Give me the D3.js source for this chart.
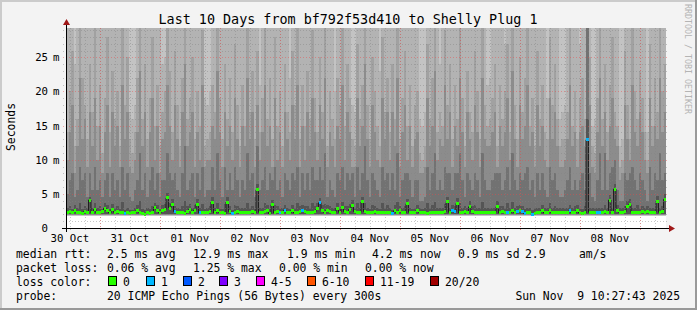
<!DOCTYPE html>
<html>
<head>
<meta charset="utf-8">
<script src="https://cdn.jsdelivr.net/npm/d3@7.9.0/dist/d3.min.js"></script>
<style>
  body { margin: 0; background: #f3f3f3; }
  svg { display: block; }
  text { font-family: "DejaVu Sans Mono", monospace; fill: #000; }
</style>
</head>
<body>
<svg id="chart" width="697" height="310"></svg>
<script>
// hourly medians (ms), one per hour, 30 Oct 10:27 -> 09 Nov 10:27
const medianRtt = [
  2.3,2.4,2.2,2.5,2.3,2.2,2.1,2.4,2.3,4.1, 2.2,2.7,2.2,2.3,2.4,2.9,2.5,2.2,2.7,2.3,
  2.4,2.2,2.2,2.1,2.2,2.1,2.2,2.3,2.6,2.3, 2.1,2.0,2.2,2.1,2.3,3.0,2.6,2.2,2.5,2.7,
  4.4,2.8,3.5,2.4,2.2,2.2,2.3,2.1,2.4,2.7, 2.3,2.6,3.5,2.2,2.3,2.2,2.2,2.4,3.8,2.2,
  2.6,2.3,2.2,2.1,3.8,2.4,2.1,2.3,2.4,2.2, 2.3,2.2,2.2,2.3,2.4,2.2,5.6,2.3,2.2,2.4,
  2.6,2.1,3.4,2.2,2.4,2.3,2.2,2.6,2.3,2.2, 2.6,2.2,2.3,2.4,2.5,2.4,2.2,2.3,2.2,2.4,
  2.9,3.7,2.6,2.3,2.6,2.4,2.2,2.3,2.9,2.3, 3.0,2.4,2.2,2.7,3.3,2.4,2.2,2.3,3.85,2.4,
  2.3,2.2,2.2,2.4,2.3,2.2,2.2,2.3,2.2,2.2, 2.1,2.5,2.2,2.5,2.3,2.2,3.55,2.3,2.2,2.3,
  2.6,2.3,2.2,2.2,2.1,2.2,2.2,2.2,2.3,2.2, 2.2,2.4,3.85,2.3,2.6,2.4,3.6,2.2,2.3,2.4,
  2.3,3.1,2.4,2.2,2.2,2.3,2.2,2.3,2.2,2.2, 2.2,2.3,3.1,2.2,2.4,2.3,2.3,2.2,2.5,2.3,
  2.4,2.5,2.4,2.1,2.2,2.2,2.0,2.1,2.2,2.3, 2.6,2.2,2.3,2.5,2.2,2.2,2.3,2.2,2.2,2.3,
  2.2,2.5,2.2,2.2,2.6,2.2,2.1,2.2,12.9,2.3, 2.2,2.3,2.3,2.2,2.2,2.4,2.3,4.1,2.3,5.7,
  2.6,2.3,2.2,2.4,3.2,3.4,2.3,2.2,2.3,2.3, 2.4,2.3,2.4,2.3,2.3,2.3,3.9,2.3,2.4,4.2
];

// hours with lost pings, and how many of the 20 were lost
const lossHours = [23,43,53,66,85,87,94,101,130,154,155,176,180,182,183,186,201,208,212,213];
const lossPings = [1,1,1,1,1,1,1,1,1,1,1,1,1,1,1,1,1,1,1,1];

// smoke band tops (ms), from the outer band inwards
const smokeE = [
  30,30,30,24,30,30,30,30,30,30, 30,30,30,30,30,30,30,30,30,30,
  30,30,30,30,30,17,16,18,30,30, 30,30,30,30,30,30,30,30,24,25,
  26,30,30,30,30,30,30,30,30,30, 30,30,30,30,30,19,18,20,30,30,
  30,30,30,30,30,30,30,30,30,30, 30,30,30,30,30,30,30,21,30,30,
  30,30,30,30,30,30,30,30,30,22, 30,30,30,30,30,30,30,30,30,30,
  30,30,30,30,30,30,30,20,30,30, 30,30,30,30,18,17,30,30,30,30,
  30,30,30,30,30,23,30,30,30,30, 30,30,30,30,30,30,30,30,30,30,
  30,16,15,17,30,30,30,30,30,24, 30,30,30,30,30,30,30,30,30,30,
  30,30,30,30,30,30,30,30,21,22, 30,30,30,30,30,27,30,30,30,30,
  30,30,30,30,30,30,30,30,30,30, 30,30,19,30,30,30,30,16,17,18,
  30,30,30,30,30,27,30,30,30,30, 15,16,30,30,30,30,30,30,30,30,
  30,12,13,30,30,30,30,30,30,30, 30,30,14,30,30,30,30,30,30,30
];
const smokeD = [
  14,20,26,12,16,30,22,18,13,24, 17,30,15,21,11,19,28,14,23,16,
  20,12,30,18,25,13,11,14,22,30, 16,24,13,19,28,15,21,12,17,20,
  30,23,14,26,18,12,22,30,16,19, 25,13,20,15,29,12,13,14,21,17,
  30,19,13,24,16,22,14,27,18,12, 21,15,30,17,23,13,26,14,19,30,
  16,22,13,28,15,20,12,24,17,14, 26,18,30,13,21,15,23,16,29,19,
  14,25,17,30,12,20,16,13,22,18, 30,15,24,19,13,12,27,16,21,30,
  18,13,25,20,15,12,28,17,22,14, 24,16,30,13,19,26,15,21,12,18,
  20,11,10,12,27,16,22,30,14,17, 15,29,18,24,13,21,16,30,19,12,
  23,17,14,26,20,13,30,18,15,16, 19,24,12,21,16,20,27,14,30,18,
  13,25,17,22,30,15,19,12,26,16, 21,14,13,28,18,24,16,12,13,13,
  17,30,15,20,13,19,22,16,30,25, 12,11,19,30,16,24,14,21,28,17,
  15,9,10,26,18,13,30,20,16,23, 19,14,10,27,15,22,17,30,20,24
];
const smokeC = [
  10,14,18,8,12,22,13,16,9,17, 12,19,10,15,8,14,18,9,17,12,
  15,9,21,13,17,9,8,10,14,23, 12,17,9,14,19,10,15,8,13,14,
  21,15,10,18,13,9,17,24,12,14, 17,9,14,10,21,9,10,10,15,13,
  23,14,9,17,12,15,10,19,13,9, 15,12,22,13,17,9,18,10,14,21,
  12,15,9,19,10,14,9,17,13,10, 18,13,21,9,15,10,17,12,19,14,
  10,18,13,22,9,14,12,9,15,13, 21,10,17,14,9,9,19,12,15,24,
  13,9,18,14,10,9,19,13,17,10, 17,12,22,9,14,18,10,15,9,13,
  14,8,8,9,19,12,15,23,10,13, 12,21,13,17,9,15,12,22,14,9,
  17,13,10,18,14,9,22,13,12,12, 14,17,9,15,12,14,19,10,23,13,
  9,18,13,15,21,12,14,9,18,12, 15,10,9,19,13,17,12,9,9,10,
  13,21,12,14,9,14,15,12,30,18, 9,8,14,22,12,17,10,15,19,13,
  12,7,8,18,13,10,21,14,12,17, 14,10,8,19,12,15,13,22,14,17
];
const smokeB = [
  5,7,8,4.5,5.5,9,7,8,4.5,8, 5.5,9,5.5,7,4.5,7,8,4.5,8,5.5,
  7,4.5,9,5.5,8,4.5,4,5.5,7,11, 5.5,8,4.5,7,9,5.5,8,4.5,7,7,
  11,8,7,8,5.5,4.5,8,12,5.5,7, 8,4.5,8,5.5,9,4.5,5.5,5.5,9,5.5,
  11,7,4.5,9,5.5,8,5.5,9,7,4.5, 7,5.5,11,7,8,4.5,12,5.5,7,9,
  5.5,8,7,9,5.5,7,4.5,8,7,5.5, 8,7,9,4.5,8,5.5,8,5.5,9,7,
  7,9,7,11,4.5,7,5.5,4.5,8,7, 9,5.5,8,7,8,4.5,9,5.5,8,12,
  7,4.5,8,7,5.5,4.5,9,7,8,5.5, 8,5.5,11,4.5,7,8,8,7,4.5,7,
  7,4,4,4.5,9,5.5,8,11,5.5,7, 5.5,9,8,8,5.5,8,8,11,7,4.5,
  8,7,5.5,8,7,4.5,11,7,5.5,5.5, 7,8,8,8,5.5,7,9,5.5,11,7,
  5.5,8,7,8,9,5.5,7,4.5,8,5.5, 8,5.5,4.5,9,7,8,5.5,4.5,4.5,5.5,
  7,9,5.5,7,5.5,7,8,5.5,30,8, 4.5,4,7,11,5.5,11,5.5,8,9,10,
  5.5,4,4,8,7,8,9,7,5.5,8, 7,5.5,4,9,5.5,8,7,11,7,8
];
const smokeA = [
  2.9,3.2,2.8,3.4,3.0,3.6,2.8,3.2,2.9,4.6, 2.9,3.6,2.9,3.2,2.8,3.7,3.4,2.8,3.5,3.0,
  3.2,2.8,3.8,2.7,3.0,2.7,2.7,2.9,3.4,4.0, 2.8,2.7,2.9,2.8,3.2,3.7,3.4,2.8,3.3,3.5,
  5.2,3.6,4.2,3.2,2.9,2.8,3.2,4.0,3.2,3.5, 3.0,3.3,4.2,2.9,3.5,2.8,2.9,3.2,4.5,2.9,
  3.6,3.0,2.8,3.5,4.5,3.2,2.7,3.4,3.2,2.9, 3.0,2.9,3.6,3.0,3.2,2.8,6.4,3.0,2.9,3.6,
  3.4,2.8,4.1,3.3,3.2,3.0,2.9,3.4,3.0,2.8, 3.4,2.9,3.6,3.2,3.3,3.2,3.2,3.0,3.6,3.2,
  3.6,4.4,3.4,3.5,3.4,3.2,2.9,3.0,3.7,3.0, 3.8,3.2,3.2,3.5,4.1,3.0,3.6,3.0,4.6,3.7,
  3.0,2.8,3.4,3.2,3.0,2.8,3.6,3.0,3.4,2.9, 2.7,3.3,3.8,3.2,3.0,3.2,4.3,3.0,2.8,3.0,
  3.4,2.9,2.8,2.9,3.6,2.9,3.4,3.8,3.0,2.9, 2.9,3.5,4.6,3.0,3.4,3.2,4.4,3.6,3.0,3.2,
  3.0,3.9,3.2,3.4,2.9,3.0,3.8,3.0,2.9,2.9, 2.9,3.0,3.9,3.2,3.2,3.0,3.6,2.9,3.8,3.0,
  3.2,3.3,3.2,2.8,2.9,2.9,2.7,2.9,2.9,3.0, 3.4,2.9,3.0,3.6,2.9,3.2,3.0,2.9,2.9,3.0,
  2.9,3.3,2.9,3.2,3.4,2.9,2.8,3.2,16,3.0, 2.9,3.0,3.0,2.9,2.9,3.4,3.0,4.9,3.0,6.5,
  3.4,3.0,2.9,3.2,4.0,4.2,3.0,2.9,3.4,3.0, 3.2,3.0,3.2,3.0,3.0,3.0,4.7,3.0,3.2,5.0
];
// bottom edge of each band (ms): outer, E, D, C, B, A
const smokeFloor = [1.8, 1.85, 1.9, 1.95, 2.0, 2.05];

const yTicksMajor = [0, 5, 10, 15, 20, 25];
const lossLabels = ['0', '1', '2', '3', '4-5', '6-10', '11-19', '20/20'];
const lossColors = ['#26ff00', '#00b8ff', '#0059ff', '#7e00ff', '#ff00ff', '#ff5500', '#ff0000', '#a10000'];
const rttStats = ['2.5 ms avg', '12.9 ms max', '1.9 ms min', '4.2 ms now', '0.9 ms sd', '2.9', 'am/s'];
const lossStats = ['0.06 % avg', '1.25 % max', '0.00 % min', '0.00 % now'];

const bandColor = ['#c3c3c3', '#b3b3b3', '#a1a1a1', '#8c8c8c', '#727272', '#555555'];

const W = 697, H = 310;
const L = 66, R = 666, T = 28, B = 228;
const hour = 3600e3;
const t0 = Date.UTC(2025, 9, 30, 10, 27, 43);
const t1 = Date.UTC(2025, 10, 9, 10, 27, 43);

const x = d3.scaleUtc().domain([t0, t1]).range([L, R]);
const y = d3.scaleLinear().domain([0, 29.3]).range([B, T]);
const yMax = y.domain()[1];
const colX = i => x(t0 + i * hour);

const svg = d3.select('#chart');

// background + 3d frame
svg.append('rect').attr('width', W).attr('height', H).attr('fill', '#f3f3f3');
svg.append('rect').attr('x', 0).attr('y', 0).attr('width', W).attr('height', 2).attr('fill', '#cbcbcb');
svg.append('rect').attr('x', 0).attr('y', 0).attr('width', 2).attr('height', H).attr('fill', '#cbcbcb');
svg.append('rect').attr('x', 0).attr('y', H - 2).attr('width', W).attr('height', 2).attr('fill', '#999');
svg.append('rect').attr('x', W - 2).attr('y', 0).attr('width', 2).attr('height', H).attr('fill', '#999');

svg.append('defs').append('clipPath').attr('id', 'plot')
  .append('rect').attr('x', L).attr('y', T).attr('width', R - L).attr('height', B - T);

svg.append('rect').attr('x', L).attr('y', T).attr('width', R - L).attr('height', B - T).attr('fill', '#fff');

const plot = svg.append('g').attr('clip-path', 'url(#plot)');

// smoke
const bandTops = [medianRtt.map(() => yMax), smokeE, smokeD, smokeC, smokeB, smokeA];
bandTops.forEach((tops, b) => {
  plot.append('g').selectAll('rect').data(tops).join('rect')
    .attr('x', (d, i) => colX(i))
    .attr('width', (d, i) => colX(i + 1) - colX(i) + 0.3)
    .attr('y', d => y(Math.min(d, yMax)))
    .attr('height', d => Math.max(0, y(smokeFloor[b]) - y(Math.min(d, yMax))))
    .attr('fill', bandColor[b])
    .attr('shape-rendering', 'crispEdges');
});

// grid (dotted, drawn over the smoke)
const minorX = d3.utcHour.every(6).range(new Date(t0), new Date(t1));
const majorX = d3.utcDay.range(new Date(t0), new Date(t1));
const gridMinor = 'rgba(130,130,130,0.45)';
const gridMajor = 'rgba(240,70,70,0.45)';
svg.append('g').selectAll('line').data(minorX).join('line')
  .attr('x1', d => Math.round(x(d)) + 0.5).attr('x2', d => Math.round(x(d)) + 0.5)
  .attr('y1', T).attr('y2', B + 2)
  .attr('stroke', gridMinor).attr('stroke-dasharray', '1,2');
svg.append('g').selectAll('line').data(d3.range(1, 30).filter(v => v % 5 !== 0)).join('line')
  .attr('x1', L - 3).attr('x2', R + 3)
  .attr('y1', d => Math.round(y(d)) + 0.5).attr('y2', d => Math.round(y(d)) + 0.5)
  .attr('stroke', gridMinor).attr('stroke-dasharray', '1,2');
svg.append('g').selectAll('line').data(majorX).join('line')
  .attr('x1', d => Math.round(x(d)) + 0.5).attr('x2', d => Math.round(x(d)) + 0.5)
  .attr('y1', T).attr('y2', B + 3)
  .attr('stroke', gridMajor).attr('stroke-dasharray', '1,2');
svg.append('g').selectAll('line').data(yTicksMajor.slice(1)).join('line')
  .attr('x1', L - 3).attr('x2', R + 3)
  .attr('y1', d => Math.round(y(d)) + 0.5).attr('y2', d => Math.round(y(d)) + 0.5)
  .attr('stroke', gridMajor).attr('stroke-dasharray', '1,2');

// median: dark step line + loss-coloured bars
const lossByHour = new Map(lossHours.map((h, k) => [h, lossPings[k]]));
const pts = medianRtt.map((m, i) => [colX(i), y(m)]);
pts.push([R, y(medianRtt[medianRtt.length - 1])]);
plot.append('path')
  .attr('d', d3.line().curve(d3.curveStepAfter)(pts))
  .attr('fill', 'none').attr('stroke', '#202020').attr('stroke-width', 1);
plot.append('g').selectAll('rect').data(medianRtt).join('rect')
  .attr('x', (d, i) => colX(i))
  .attr('width', (d, i) => colX(i + 1) - colX(i) + 0.3)
  .attr('y', d => y(d) - 1.5)
  .attr('height', 3)
  .attr('fill', (d, i) => lossColors[lossByHour.get(i) || 0])
  .attr('shape-rendering', 'crispEdges');

// axes
svg.append('line').attr('x1', L - 4).attr('x2', R + 4).attr('y1', B + 0.5).attr('y2', B + 0.5)
  .attr('stroke', '#000');
svg.append('line').attr('x1', L + 0.5).attr('x2', L + 0.5).attr('y1', B + 4).attr('y2', T - 4)
  .attr('stroke', '#000');
svg.append('path').attr('d', `M${R + 3},${B - 3}L${R + 9},${B + 0.5}L${R + 3},${B + 4}Z`).attr('fill', '#a01818');
svg.append('path').attr('d', `M${L - 3},${T - 3}L${L + 0.5},${T - 9}L${L + 4},${T - 3}Z`).attr('fill', '#a01818');

// y tick labels
const yl = svg.append('g').style('font-size', '10.7px');
yl.selectAll('text.n').data(yTicksMajor).join('text').attr('class', 'n')
  .attr('x', 48).attr('y', d => y(d) + 4).attr('text-anchor', 'end').text(d => d);
yl.selectAll('text.u').data(yTicksMajor.slice(1)).join('text').attr('class', 'u')
  .attr('x', 53).attr('y', d => y(d) + 4).text('m');

// x tick labels at noon of each day
const noons = majorX.map(d => new Date(+d - 12 * hour)).concat([new Date(+majorX[majorX.length - 1] + 12 * hour)])
  .filter(d => +d > t0 && +d < t1);
svg.append('g').style('font-size', '10.7px').selectAll('text').data(noons).join('text')
  .attr('x', d => x(d)).attr('y', 242).attr('text-anchor', 'middle')
  .text(d3.utcFormat('%d %b'));

// title, y label, watermark
svg.append('text').attr('x', 348).attr('y', 24).attr('text-anchor', 'middle').style('font-size', '13.4px')
  .text('Last 10 Days from bf792f53d410 to Shelly Plug 1');
svg.append('text').attr('transform', 'translate(15,127) rotate(-90)').attr('text-anchor', 'middle')
  .style('font-size', '11.4px').text('Seconds');
svg.append('text').attr('transform', 'translate(685,4) rotate(90)').style('font-size', '8.3px')
  .style('fill', '#b4b4b4').text('RRDTOOL / TOBI OETIKER');

// legend
const lg = svg.append('g').style('font-size', '11.4px');
lg.append('text').attr('x', 16).attr('y', 258).text('median rtt:');
const rttX = [107, 193, 287, 372, 458, 525, 579];
rttStats.forEach((s, k) => lg.append('text').attr('x', rttX[k]).attr('y', 258).text(s));
lg.append('text').attr('x', 16).attr('y', 272).text('packet loss:');
const lossX = [107, 193, 279, 365];
lossStats.forEach((s, k) => lg.append('text').attr('x', lossX[k]).attr('y', 272).text(s));
lg.append('text').attr('x', 16).attr('y', 286).text('loss color:');
const swX = [108, 146, 183, 219, 256, 307, 365, 430];
lossLabels.forEach((s, k) => {
  lg.append('rect').attr('x', swX[k] + 0.5).attr('y', 276.5).attr('width', 8).attr('height', 9)
    .attr('fill', lossColors[k]).attr('stroke', '#000');
  lg.append('text').attr('x', swX[k] + 15).attr('y', 286).text(s);
});
lg.append('text').attr('x', 16).attr('y', 300).text('probe:');
lg.append('text').attr('x', 107).attr('y', 300).text('20 ICMP Echo Pings (56 Bytes) every 300s');
lg.append('text').attr('x', 680).attr('y', 300).attr('text-anchor', 'end').text('Sun Nov  9 10:27:43 2025')
  .attr('xml:space', 'preserve').style('white-space', 'pre');
</script>
</body>
</html>
